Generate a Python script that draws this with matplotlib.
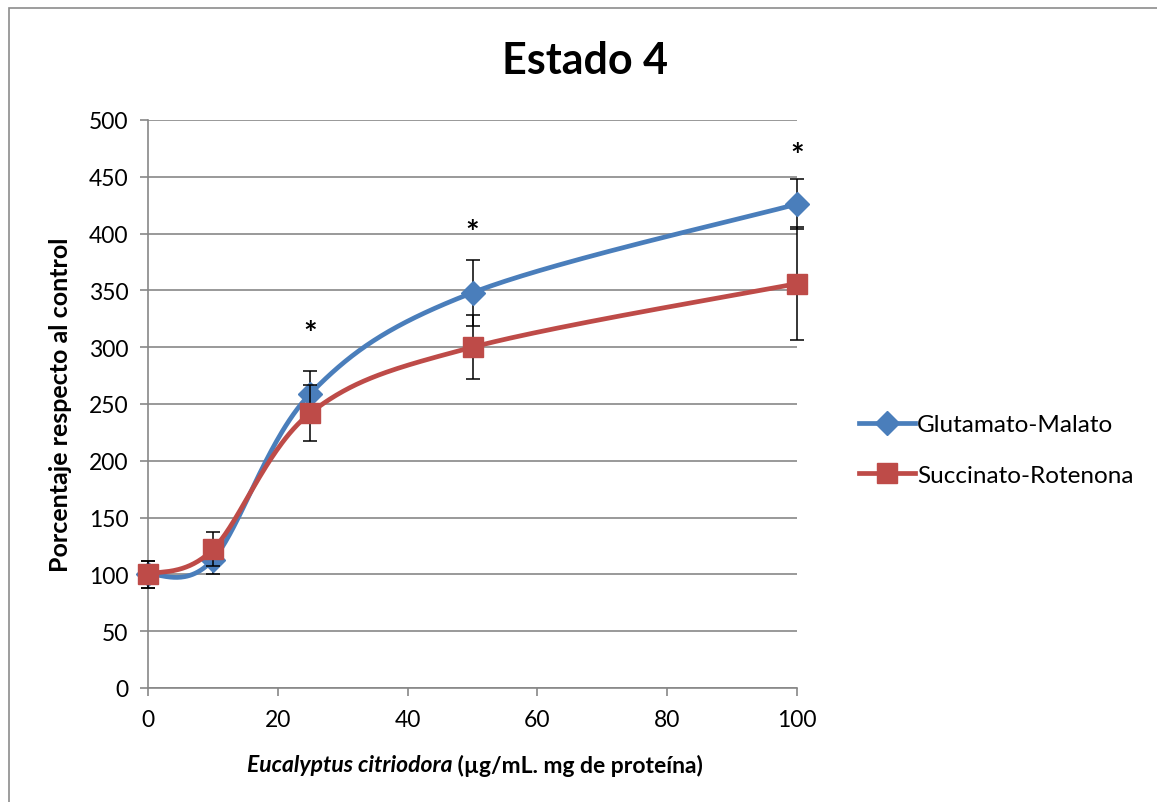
import matplotlib.pyplot as plt
import numpy as np
from matplotlib.patches import Rectangle

plt.rcParams["font.family"] = ["Lato", "DejaVu Sans"]

dose = [0, 10, 25, 50, 100]
glut_mal = [100, 113, 259, 348, 426]
glut_mal_err = [12, 13, 20, 29, 22]
succ_rot = [100, 122, 242, 300, 356]
succ_rot_err = [12, 15, 25, 28, 50]
star_dose = [25, 50, 100]
star_level = [311, 400, 468]

BLUE = "#4A7EBB"
RED = "#BE4B48"
GRID = "#878787"


def smooth(x, y, n=60):
    # cubic Bezier segments with Catmull-Rom style control points
    pts = np.column_stack([x, y]).astype(float)
    ext = np.vstack([pts[0], pts, pts[-1]])
    t = np.linspace(0, 1, n)[:, None]
    out = []
    for i in range(len(pts) - 1):
        p0, p3 = ext[i + 1], ext[i + 2]
        c1 = p0 + (ext[i + 2] - ext[i]) / 6
        c2 = p3 - (ext[i + 3] - ext[i + 1]) / 6
        seg = ((1 - t) ** 3) * p0 + 3 * ((1 - t) ** 2) * t * c1 + 3 * (1 - t) * t ** 2 * c2 + t ** 3 * p3
        out.append(seg if i == 0 else seg[1:])
    seg = np.vstack(out)
    return seg[:, 0], seg[:, 1]


fig = plt.figure(figsize=(11.57, 8.03), dpi=100)
ax = fig.add_axes([148 / 1157, 1 - 689 / 803, 649 / 1157, 568 / 803])

fig.patches.append(Rectangle((9 / 1157, -0.1), 1.2, (1 - 9 / 803) + 0.1, transform=fig.transFigure,
                             fill=False, edgecolor="#8c8c8c", linewidth=1.2))

series = [
    ("Glutamato-Malato", glut_mal, glut_mal_err, BLUE, "D", 12),
    ("Succinato-Rotenona", succ_rot, succ_rot_err, RED, "s", 14),
]
for k, (name, vals, err, color, marker, ms) in enumerate(series):
    ax.errorbar(dose, vals, yerr=err, fmt="none", ecolor="black", elinewidth=1.1,
                capsize=4.8, capthick=1.1, zorder=3 + k * 2, clip_on=False)
    sx, sy = smooth(dose, vals)
    ax.plot(sx, sy, color=color, linewidth=3.4, solid_capstyle="round", zorder=4 + k * 2, clip_on=False)
    ax.plot(dose, vals, linestyle="none", marker=marker, markersize=ms, color=color,
            zorder=4 + k * 2, clip_on=False)
    ax.plot([], [], color=color, linewidth=3.4, marker=marker, markersize=ms, label=name)

for xd, yl in zip(star_dose, star_level):
    ax.text(xd, yl, "*", ha="center", va="center", fontsize=23, fontweight="bold", color="black")

ax.set_xlim(0, 100)
ax.set_ylim(0, 500)
ax.set_xticks(range(0, 101, 20))
ax.set_yticks(range(0, 501, 50))
ax.yaxis.grid(True, color=GRID, linewidth=1.2)
ax.set_axisbelow(True)
for side in ["top", "right"]:
    ax.spines[side].set_visible(False)
for side in ["left", "bottom"]:
    ax.spines[side].set_color(GRID)
    ax.spines[side].set_linewidth(1.2)
ax.tick_params(axis="both", colors=GRID, length=6, width=1.2, labelsize=16.5, labelcolor="black", pad=8)
ax.tick_params(axis="x", pad=9)

ax.set_ylabel("Porcentaje respecto al control", fontsize=18, fontweight="bold", labelpad=12)

fig.text(585 / 1157, 1 - 61 / 803, "Estado 4", ha="center", va="center", fontsize=31, fontweight="bold")

# x label: italic species name followed by upright units
y_lab = 1 - 766 / 803
t1 = fig.text(0.0, y_lab, "Eucalyptus citriodora", fontsize=16.5, fontweight="bold", fontstyle="italic",
              ha="left", va="center")
t2 = fig.text(0.0, y_lab, " (µg/mL. mg de proteína)", fontsize=16.5, fontweight="bold", ha="left", va="center")
fig.canvas.draw()
r = fig.canvas.get_renderer()
w1 = t1.get_window_extent(r).width
w2 = t2.get_window_extent(r).width
cx = 475
x0 = cx - (w1 + w2) / 2
t1.set_x(x0 / 1157)
t2.set_x((x0 + w1) / 1157)

ax.legend(loc="center left", bbox_to_anchor=(701 / 649, 1 - (451 - 121) / 568), frameon=False,
          fontsize=17.5, handlelength=2.3, handletextpad=0.1, labelspacing=1.2, borderaxespad=0)

fig.savefig("out.png", dpi=100)
